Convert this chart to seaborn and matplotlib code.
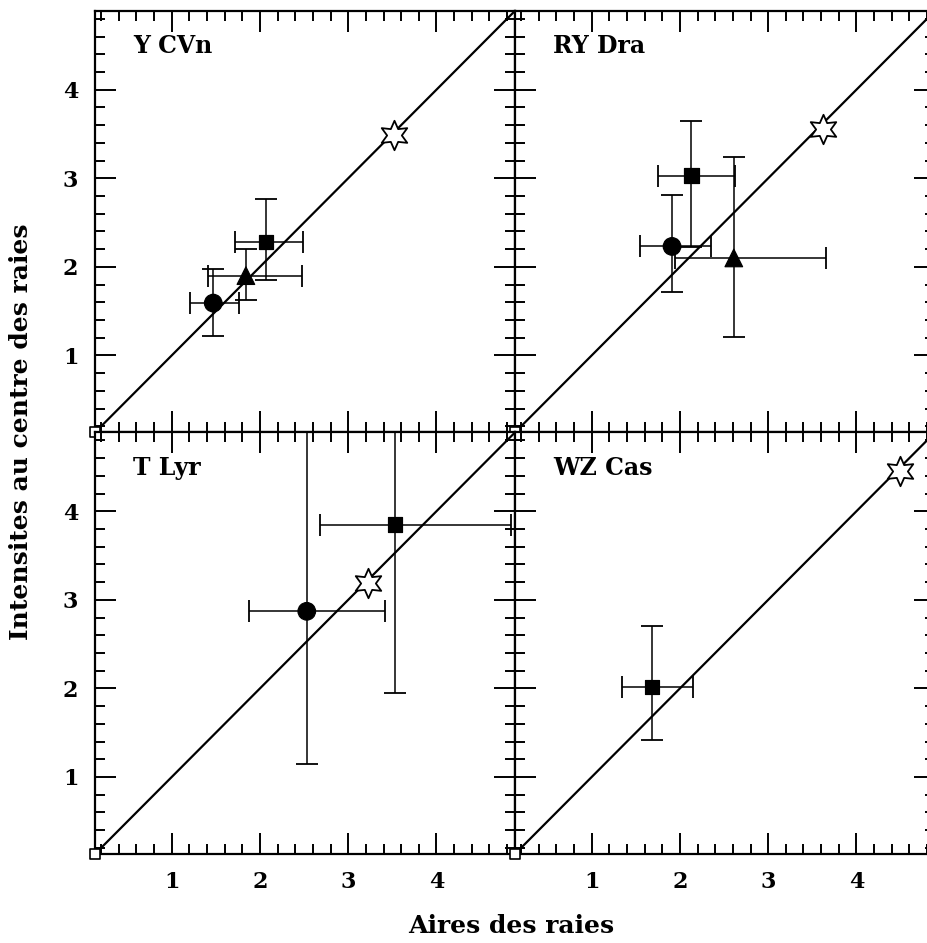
import matplotlib
matplotlib.use("Agg")
import matplotlib.pyplot as plt
import seaborn as sns
import pandas as pd
from matplotlib.ticker import MultipleLocator

# panels (star names), in reading order
stars = ["Y CVn", "RY Dra", "T Lyr", "WZ Cas"]

# measured points per star
pt_star = ["Y CVn", "Y CVn", "Y CVn", "RY Dra", "RY Dra", "RY Dra", "T Lyr", "T Lyr", "WZ Cas"]
pt_kind = ["circle", "triangle", "square", "circle", "square", "triangle", "circle", "square", "square"]
pt_x = [1.47, 1.84, 2.07, 1.91, 2.13, 2.61, 2.53, 3.53, 1.68]
pt_y = [1.59, 1.90, 2.28, 2.23, 3.03, 2.10, 2.87, 3.85, 2.02]
pt_xlo = [1.21, 1.41, 1.72, 1.55, 1.75, 1.94, 1.87, 2.68, 1.34]
pt_xhi = [1.76, 2.48, 2.49, 2.35, 2.62, 3.66, 3.42, 4.85, 2.15]
pt_ylo = [1.22, 1.62, 1.85, 1.71, 2.22, 1.21, 1.15, 1.95, 1.42]
pt_yhi = [1.98, 2.20, 2.76, 2.81, 3.65, 3.24, 5.10, 5.10, 2.70]

# model value (open star) per panel
model_x = [3.52, 3.62, 3.22, 4.49]
model_y = [3.49, 3.56, 3.19, 4.45]

lim = (0.13, 4.89)

df = pd.DataFrame({"star": pt_star, "kind": pt_kind, "x": pt_x, "y": pt_y,
                   "xlo": pt_xlo, "xhi": pt_xhi, "ylo": pt_ylo, "yhi": pt_yhi})

sns.set_style("ticks", {"axes.edgecolor": "black", "text.color": "black",
                        "xtick.color": "black", "ytick.color": "black"})
plt.rcParams["font.family"] = ["DejaVu Serif"]
plt.rcParams["font.weight"] = "bold"

markers = {"circle": "o", "triangle": "^", "square": "s"}
sizes = {"circle": 160, "triangle": 160, "square": 110}

fig, axes = plt.subplots(2, 2, sharex=True, sharey=True, figsize=(9.28, 9.43), dpi=100)
# the right edge of the original scan is cut off, so the axes run past the figure
fig.subplots_adjust(left=0.1024, right=1.0075, bottom=0.0944, top=0.9885, wspace=0, hspace=0)

for ax, name, mx, my in zip(axes.flat, stars, model_x, model_y):
    sub = df[df["star"] == name]
    ax.errorbar(sub["x"], sub["y"],
                xerr=[sub["x"] - sub["xlo"], sub["xhi"] - sub["x"]],
                yerr=[sub["y"] - sub["ylo"], sub["yhi"] - sub["y"]],
                fmt="none", ecolor="black", elinewidth=1.1, capsize=8, capthick=1.3, zorder=2)
    sns.scatterplot(data=sub, x="x", y="y", style="kind", markers=markers,
                    size="kind", sizes=sizes, color="black", edgecolor="black",
                    legend=False, ax=ax, zorder=3)
    ax.axline((0, 0), slope=1, color="black", lw=1.6, zorder=1)
    ax.scatter([lim[0]], [lim[0]], marker="s", s=60, facecolor="white",
               edgecolor="black", linewidth=1.2, clip_on=False, zorder=4)
    ax.scatter([mx], [my], marker=(6, 1, 0), s=450, facecolor="white",
               edgecolor="black", linewidth=1.3, zorder=5)
    ax.text(0.09, 0.916, name, transform=ax.transAxes, fontsize=17,
            fontweight="bold", va="center", ha="left")
    ax.set_xlim(lim)
    ax.set_ylim(lim)
    ax.xaxis.set_major_locator(MultipleLocator(1))
    ax.xaxis.set_minor_locator(MultipleLocator(0.2))
    ax.yaxis.set_major_locator(MultipleLocator(1))
    ax.yaxis.set_minor_locator(MultipleLocator(0.2))
    ax.tick_params(which="both", direction="in", top=True, right=True, width=1.4, pad=12,
                   labelsize=16, colors="black")
    ax.tick_params(which="major", length=15)
    ax.tick_params(which="minor", length=7)
    for s in ax.spines.values():
        s.set_linewidth(1.6)
    ax.set_xlabel("")
    ax.set_ylabel("")
    for lab in ax.get_xticklabels() + ax.get_yticklabels():
        lab.set_fontweight("bold")

fig.text(0.551, 0.018, "Aires des raies", ha="center", va="center", fontsize=18, fontweight="bold")
fig.text(0.023, 0.542, "Intensites au centre des raies", ha="center", va="center",
         rotation=90, fontsize=18, fontweight="bold")

fig.savefig("out.png", dpi=100)
